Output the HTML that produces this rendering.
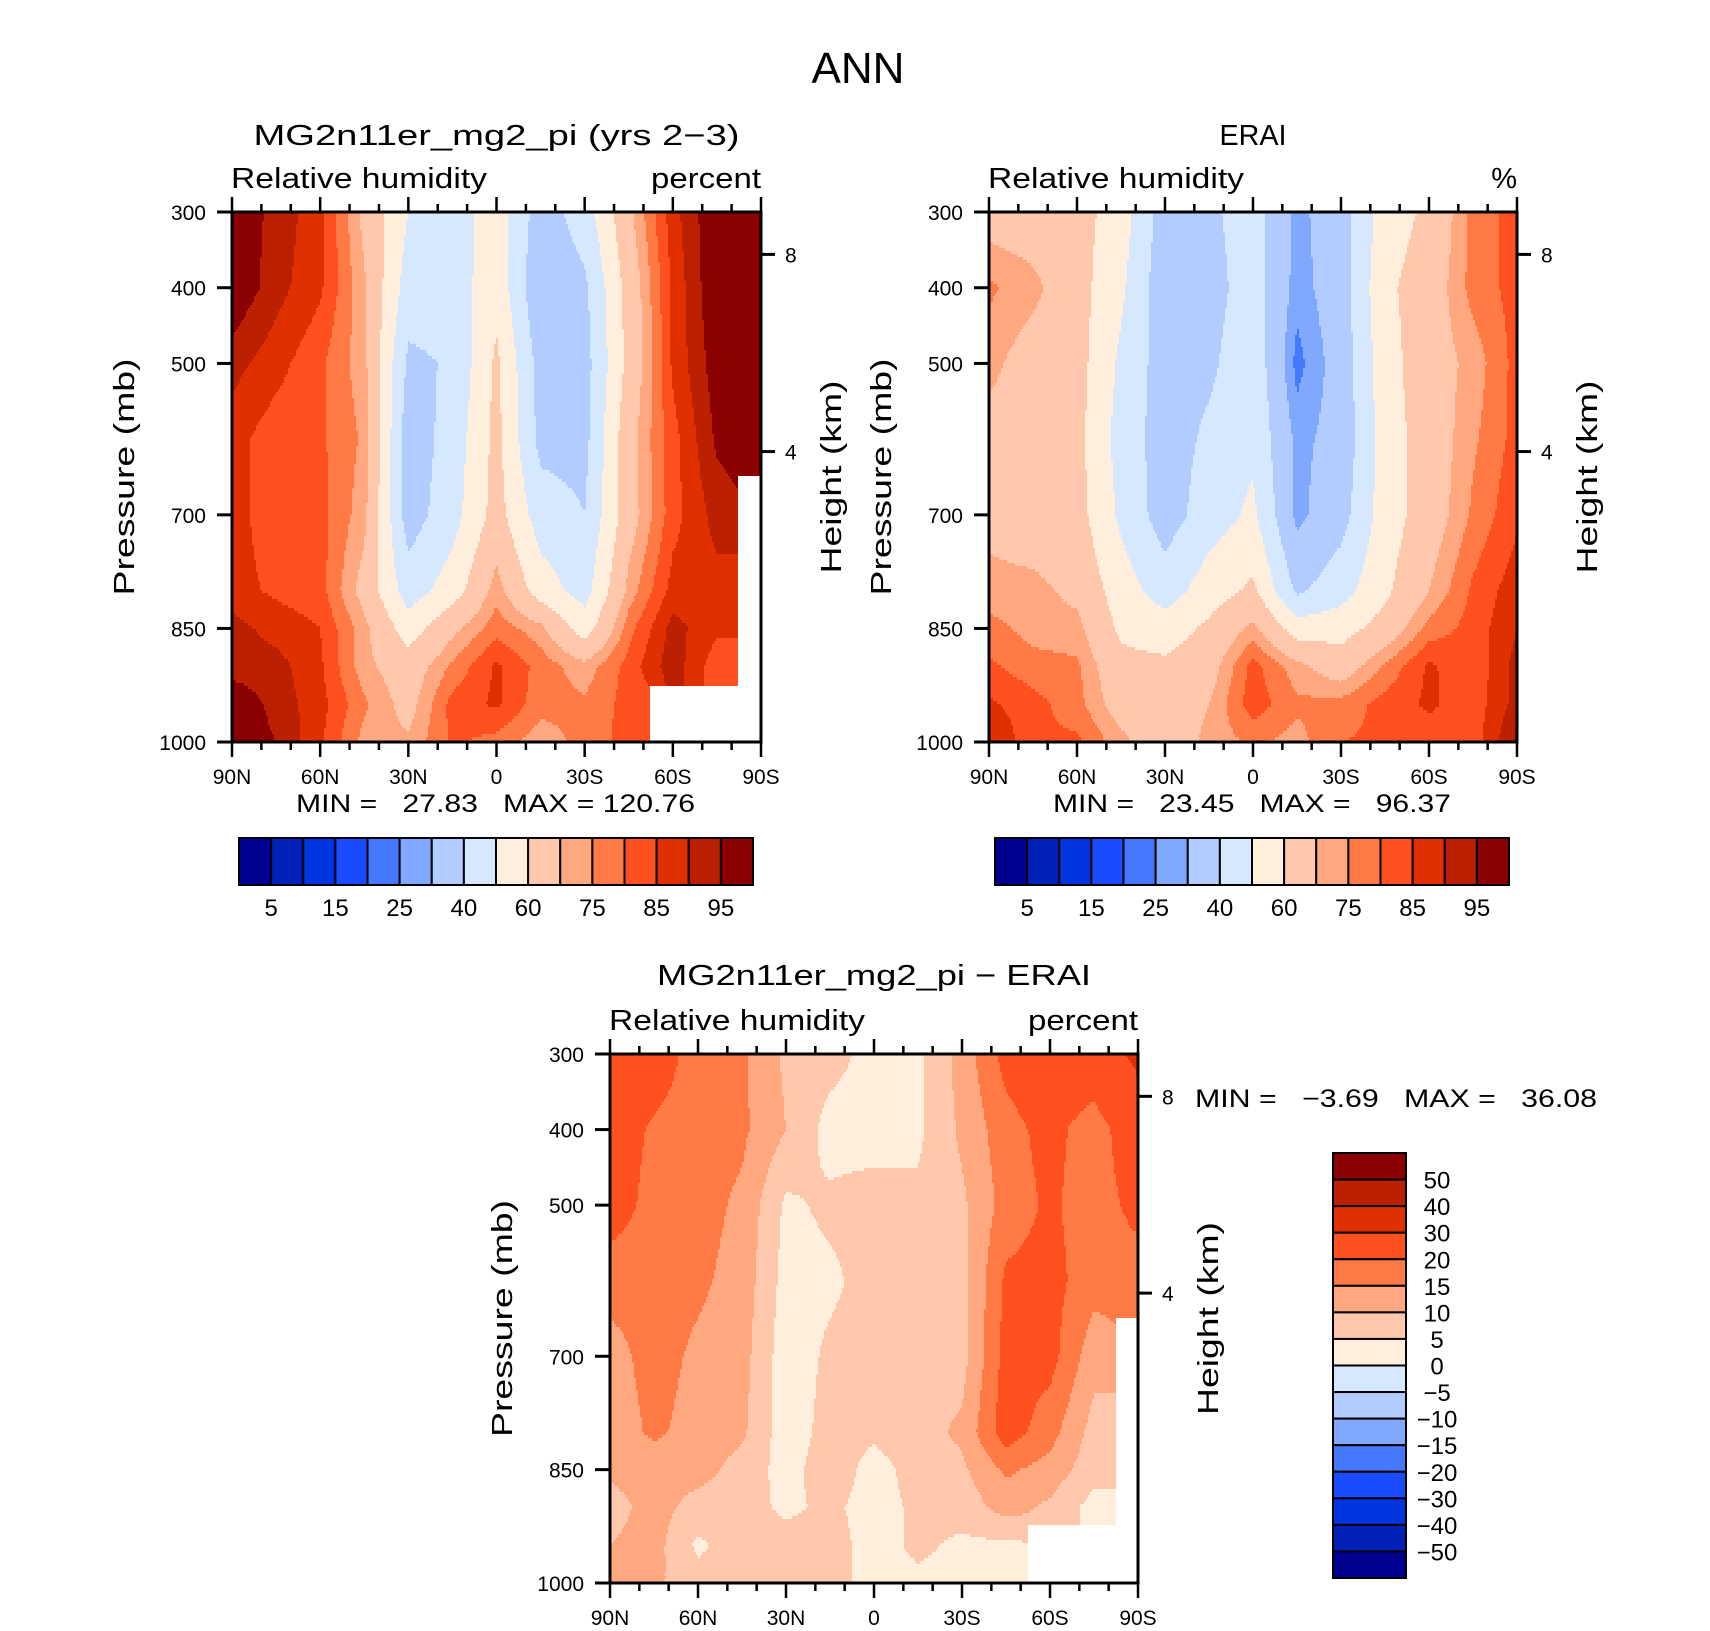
<!DOCTYPE html>
<html><head><meta charset="utf-8"><title>ANN Relative humidity</title>
<style>
html,body{margin:0;padding:0;background:#fff;}
svg{display:block;font-family:"Liberation Sans",sans-serif;}
text{fill:#000;white-space:pre;}
</style></head>
<body>
<svg id="fig" xmlns="http://www.w3.org/2000/svg" width="1710" height="1631" viewBox="0 0 1710 1631">
<rect x="0" y="0" width="1710" height="1631" fill="#fff"/>
<text x="858" y="83" font-size="44" text-anchor="middle" textLength="93" lengthAdjust="spacingAndGlyphs">ANN</text>
<g id="layer"></g>
</svg>
<script>
// ---- data ----
const lats = [90,75,60,45,30,15,0,-15,-30,-45,-60,-75,-90];
const pressures = [300,400,500,600,700,800,850,900,950,1000];
// model RH, one array per latitude (values at each pressure level)
const modelRH = [
 [100,100,92,87,87,87,92,92,100,100],
 [93,92,87,82,82,84,88,92,93,95],
 [87,86,81,81,82,82,85,86,87,86],
 [68,71,72,74,72,67,72,72,76,73],
 [50,45,38,34,35,45,55,65,67,71],
 [45,44,41,44,46,55,68,76,82,81],
 [55,57,62,63,64,73,78,86,86,78],
 [35,31,36,37,45,55,72,78,77,72],
 [45,38,36,37,40,46,55,72,76,77],
 [68,64,63,67,66,72,78,82,82,82],
 [88,86,86,83,83,87,92,93,null,null],
 [100,100,98,96,92,88,86,82,null,null],
 [110,110,105,100,null,null,null,null,null,null]
];
const eraiRH = [
 [66,76,72,67,68,72,77,81,86,91],
 [65,72,66,65,65,72,73,77,82,81],
 [64,64,64,63,64,68,72,76,77,81],
 [55,52,48,46,48,55,58,63,66,72],
 [35,33,35,35,35,45,55,62,64,64],
 [38,36,38,42,45,55,62,66,70,72],
 [45,45,47,48,52,62,72,82,83,76],
 [28,27,23,28,28,38,55,72,76,73],
 [35,35,34,33,36,46,56,65,77,80],
 [55,58,56,55,55,58,64,76,82,81],
 [62,65,66,65,65,70,77,86,86,82],
 [77,77,72,74,76,81,82,81,82,82],
 [82,82,82,82,84,88,90,92,92,96]
];
const diffRH = [
 [25,24,23,17,13,12,11,8,10,12],
 [24,19,18,17,17,16,12,12,12,11],
 [17,17,17,16,14,13,12,8,4,7],
 [16,16,14,13,12,11,8,7,8,7],
 [9,10,4,3,2,2,3,4,7,8],
 [7,3,6,4,6,7,8,6,7,7],
 [3,3,7,7,7,6,3,3,3,3],
 [4,4,6,7,8,8,7,6,6,4],
 [12,11,9,8,8,11,9,7,4,3],
 [22,18,17,21,22,23,16,12,4,3],
 [25,22,21,22,22,17,13,9,null,null],
 [25,17,17,17,12,8,7,3,null,null],
 [32,25,22,17,null,null,null,null,null,null]
];
const rhLevels = [5,10,15,20,25,30,40,50,60,70,75,80,85,90,95];
const diffLevels = [-50,-40,-30,-20,-15,-10,-5,0,5,10,15,20,30,40,50];
const rhBarLabels = ["5","15","25","40","60","75","85","95"];
const diffBarLabels = ["50","40","30","20","15","10","5","0","\u22125","\u221210","\u221215","\u221220","\u221230","\u221240","\u221250"];
const pressureTicks = [300,400,500,700,850,1000];
const heightTicksKm = [8,4];
const latTicks = [90,60,30,0,-30,-60,-90];
const latTickLabels = ["90N","60N","30N","0","30S","60S","90S"];
const palette = ["#000090","#0020b8","#0035e0","#1a4cff","#4479ff","#80a8ff","#b3ccff","#d6e8ff","#ffeedb","#ffc8ad","#ffa880","#ff7a45","#ff5020","#e03000","#bb2000","#8b0000"];

// ---- helpers ----
const NS = "http://www.w3.org/2000/svg";
const layer = document.getElementById('layer');
function mk(tag, attrs, parent){
  const e = document.createElementNS(NS, tag);
  for (const k in attrs) e.setAttribute(k, attrs[k]);
  (parent||layer).appendChild(e);
  return e;
}
function txt(s, x, y, size, anchor, parent, name, extra){
  const t = mk('text', Object.assign({x:x, y:y, 'font-size':size, 'text-anchor':anchor||'start'}, extra||{}), parent);
  t.textContent = s;
  
  
  return t;
}
function levelIndex(v, levels){ let i=0; while(i<levels.length && v>=levels[i]) i++; return i; }
function pressFromKm(z){ return 1013.25*Math.pow(1-2.25577e-5*z*1000, 5.25588); }

function sample(grid, lat, p){
  const li = (90-lat)/15;
  let pi = 0;
  while (pi < pressures.length-2 && p > pressures[pi+1]) pi++;
  const pf = (p - pressures[pi])/(pressures[pi+1]-pressures[pi]);
  const nl = Math.round(li), np = pf < 0.5 ? pi : pi+1;
  if (grid[Math.min(12,nl)][np] === null) return null;
  const l0 = Math.min(11, Math.floor(li)), lf = li - l0;
  const c = [[grid[l0][pi],(1-lf)*(1-pf)],[grid[l0+1][pi],lf*(1-pf)],[grid[l0][pi+1],(1-lf)*pf],[grid[l0+1][pi+1],lf*pf]];
  let s=0,w=0;
  for (const [v,wt] of c){ if (v!==null){ s+=v*wt; w+=wt; } }
  return w>0 ? s/w : null;
}

function panel(o){
  const g = mk('g', {});
  
  
  const X = lat => o.x0 + (90-lat)/180*(o.x1-o.x0);
  const Y = p => o.y0 + (p-300)/700*(o.y1-o.y0);
  const fg = mk('g', {}, g);
  
  
  const dy = 3, dx = 2;
  function flush(x0r, x1r, y, col){
    const r = mk('rect', {x:x0r, y:y, width:x1r-x0r+0.6, height:Math.min(dy,o.y1-y)+0.6, fill:col}, fg);
    
    
  }
  for (let y=o.y0; y<o.y1; y+=dy){
    const p = 300 + (y+dy/2-o.y0)/(o.y1-o.y0)*700;
    let runStart = o.x0, runCol = null;
    for (let x=o.x0; x<o.x1; x+=dx){
      const lat = 90 - (Math.min(x+dx/2,o.x1)-o.x0)/(o.x1-o.x0)*180;
      const v = sample(o.grid, lat, p);
      const col = v===null ? '#ffffff' : palette[levelIndex(v, o.levels)];
      if (col !== runCol){
        if (runCol !== null) flush(runStart, x, y, runCol);
        runStart = x; runCol = col;
      }
    }
    if (runCol !== null) flush(runStart, o.x1, y, runCol);
  }
  const fr = mk('rect', {x:o.x0, y:o.y0, width:o.x1-o.x0, height:o.y1-o.y0, fill:'none', stroke:'#000', 'stroke-width':3}, g);
  
  
  const tk = mk('g', {stroke:'#000','stroke-width':2.5}, g);
  
  
  for (let lat=90; lat>=-90; lat-=10){
    const major = lat%30===0;
    const L = major?15:8;
    mk('line',{x1:X(lat),x2:X(lat),y1:o.y1,y2:o.y1+L},tk);
    mk('line',{x1:X(lat),x2:X(lat),y1:o.y0,y2:o.y0-L},tk);
  }
  latTicks.forEach((lat,i)=>txt(latTickLabels[i], X(lat), o.y1+42, 21, 'middle', g, 'x-tick-label'));
  pressureTicks.forEach(p=>{
    mk('line',{x1:o.x0-15,x2:o.x0,y1:Y(p),y2:Y(p),stroke:'#000','stroke-width':3},g);
    txt(String(p), o.x0-26, Y(p)+8, 21, 'end', g, 'y-tick-label');
  });
  heightTicksKm.forEach(z=>{
    const yy = Y(pressFromKm(z));
    mk('line',{x1:o.x1,x2:o.x1+14,y1:yy,y2:yy,stroke:'#000','stroke-width':3},g);
    txt(String(z), o.x1+24, yy+8, 21, 'start', g, 'height-tick-label');
  });
  const cy = (o.y0+o.y1)/2;
  txt('Pressure (mb)', o.x0-108, cy, 29, 'middle', g, 'y-axis-title', {transform:`rotate(-90 ${o.x0-108} ${cy})`, textLength:237, lengthAdjust:'spacingAndGlyphs'}).setAttribute('dy','10');
  txt('Height (km)', o.x1+70, cy, 29, 'middle', g, 'right-axis-title', {transform:`rotate(-90 ${o.x1+70} ${cy})`, textLength:193, lengthAdjust:'spacingAndGlyphs'}).setAttribute('dy','10');
  txt('Relative humidity', o.x0-1, o.y0-24, 29, 'start', g, 'variable-label', {textLength:256, lengthAdjust:'spacingAndGlyphs'});
  txt(o.units, o.x1, o.y0-24, 29, 'end', g, 'units-label', o.units==='percent'?{textLength:110, lengthAdjust:'spacingAndGlyphs'}:{});
  txt(o.title, (o.x0+o.x1)/2, o.titleY, 29, 'middle', g, 'panel-title', {textLength:o.titleW, lengthAdjust:'spacingAndGlyphs'});
  return g;
}

function hbar(x0,x1,y0,y1,name){
  const g = mk('g',{});  
  const w=(x1-x0)/palette.length;
  palette.forEach((c,i)=>{
    const r=mk('rect',{x:x0+i*w,y:y0,width:w,height:y1-y0,fill:c,stroke:'#000','stroke-width':2},g);
    
    
  });
  rhBarLabels.forEach((s,k)=>txt(s, x0+(2*k+1)*w, y1+31, 24, 'middle', g, 'colorbar-label'));
}
function vbar(x0,x1,y0,y1,name){
  const g = mk('g',{});  
  const h=(y1-y0)/palette.length;
  palette.slice().reverse().forEach((c,i)=>{
    const r=mk('rect',{x:x0,y:y0+i*h,width:x1-x0,height:h,fill:c,stroke:'#000','stroke-width':2},g);
    
    
  });
  diffBarLabels.forEach((s,k)=>txt(s, 1437, y0+(k+1)*h+9, 24, 'middle', g, 'colorbar-label'));
}

panel({name:'model-panel', grid:modelRH, levels:rhLevels, x0:232,x1:761,y0:212,y1:742, units:'percent', title:'MG2n11er_mg2_pi (yrs 2\u22123)', titleY:145, titleW:486});
panel({name:'erai-panel', grid:eraiRH, levels:rhLevels, x0:989,x1:1517,y0:212,y1:742, units:'%', title:'ERAI', titleY:145, titleW:67});
panel({name:'diff-panel', grid:diffRH, levels:diffLevels, x0:610,x1:1138,y0:1054,y1:1583, units:'percent', title:'MG2n11er_mg2_pi \u2212 ERAI', titleY:985, titleW:434});

txt('MIN =   27.83   MAX = 120.76', 296, 812, 25, 'start', layer, 'model-min-max', {textLength:399, lengthAdjust:'spacingAndGlyphs'});
txt('MIN =   23.45   MAX =   96.37', 1053, 812, 25, 'start', layer, 'erai-min-max', {textLength:398, lengthAdjust:'spacingAndGlyphs'});
txt('MIN =   \u22123.69   MAX =   36.08', 1195, 1107, 25, 'start', layer, 'diff-min-max', {textLength:402, lengthAdjust:'spacingAndGlyphs'});

hbar(239,753,838,885,'model-colorbar');
hbar(995,1509,838,885,'erai-colorbar');
vbar(1333,1406,1153,1578,'diff-colorbar');
</script>
</body></html>
